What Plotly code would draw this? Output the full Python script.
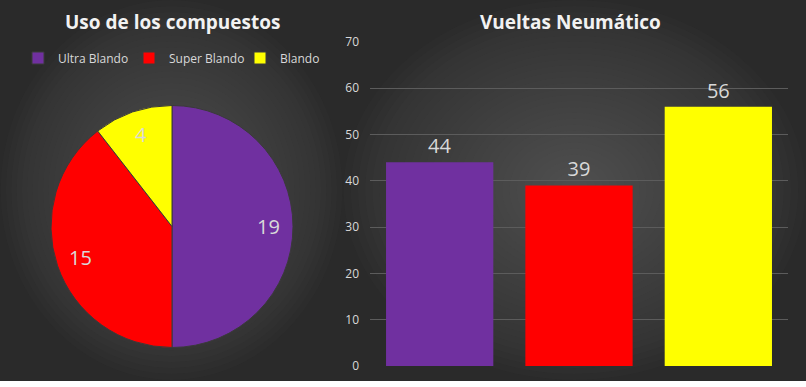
import math
import plotly.graph_objects as go

compounds = ["Ultra Blando", "Super Blando", "Blando"]
usage = [19, 15, 4]
laps = [44, 39, 56]
colors = ["#7030A0", "#FF0000", "#FFFF00"]
yticks = [0, 10, 20, 30, 40, 50, 60, 70]

W, H = 806, 387
FONT = "Open Sans, Noto Sans, sans-serif"
TXT = "#D9D9D9"

# pie geometry (pixels)
PCX, PCY, PR = 172, 226.5, 121

fig = go.Figure()

fig.add_trace(go.Pie(
    labels=compounds, values=usage, sort=False, direction="clockwise", rotation=0,
    marker=dict(colors=colors, line=dict(color="#3a3a3a", width=1)),
    textinfo="none",
    domain=dict(x=[(PCX-PR)/W, (PCX+PR)/W], y=[1-(PCY+PR)/H, 1-(PCY-PR)/H]),
    showlegend=True, hoverinfo="label+value",
))

fig.add_trace(go.Bar(
    x=compounds, y=laps, marker=dict(color=colors, line=dict(width=0)),
    text=laps, textposition="outside", cliponaxis=False,
    textfont=dict(size=20, color=TXT, family=FONT),
    showlegend=False, xaxis="x", yaxis="y",
))

# pie data labels placed at ~0.8 radius in the middle of each slice
annotations = []
total = sum(usage)
cum = 0
for v in usage:
    mid = (cum + v / 2) / total * 2 * math.pi
    cum += v
    px = PCX + 0.8 * PR * math.sin(mid)
    py = PCY - 0.8 * PR * math.cos(mid)
    annotations.append(dict(text=str(v), x=px/W, y=1-py/H, xref="paper", yref="paper",
                            showarrow=False, xanchor="center", yanchor="middle",
                            font=dict(size=20, color=TXT, family=FONT)))

annotations += [
    dict(text="<b>Uso de los compuestos</b>", x=172/W, y=1-22.5/H, xref="paper", yref="paper",
         showarrow=False, xanchor="center", yanchor="middle",
         font=dict(size=19, color="#F2F2F2", family=FONT)),
    dict(text="<b>Vueltas Neumático</b>", x=570/W, y=1-22.5/H, xref="paper", yref="paper",
         showarrow=False, xanchor="center", yanchor="middle",
         font=dict(size=19, color="#F2F2F2", family=FONT)),
]

BASE = "#2a2a2a"
shapes = [
    dict(type="rect", xref="paper", yref="paper", x0=0, x1=343/W, y0=1-381/H, y1=1,
         fillcolor=BASE, line=dict(width=0), layer="below"),
    dict(type="rect", xref="paper", yref="paper", x0=343/W, x1=1, y0=1-381/H, y1=1,
         fillcolor=BASE, line=dict(width=0), layer="below"),
]

def glow(cx, cy, rx, ry, n=32):
    out = []
    for i in range(n):
        f = 1 - i / n
        out.append(dict(type="circle", xref="paper", yref="paper",
                        x0=(cx - rx*f)/W, x1=(cx + rx*f)/W,
                        y0=1-(cy + ry*f)/H, y1=1-(cy - ry*f)/H,
                        fillcolor="rgba(128,128,128,0.021)", line=dict(width=0), layer="below"))
    return out

shapes += glow(171.5, 190, 171, 190)
shapes += glow(574.5, 190, 231, 190)

fig.update_layout(
    width=W, height=H, margin=dict(l=0, r=0, t=0, b=0, autoexpand=False),
    paper_bgcolor="white", plot_bgcolor="rgba(0,0,0,0)",
    font=dict(family=FONT, color=TXT),
    shapes=shapes, annotations=annotations,
    bargap=0.23,
    xaxis=dict(domain=[370/W, 788/W], showticklabels=False, showgrid=False,
               zeroline=False, showline=False, ticks="", automargin=False),
    yaxis=dict(domain=[1-366/H, 1-42/H], range=[0, 70], tickvals=yticks,
               gridcolor="#5c5c5c", gridwidth=1, zeroline=False, showline=False,
               tickfont=dict(size=12, color=TXT, family=FONT), ticklabelstandoff=10,
               automargin=False),
    legend=dict(orientation="h", x=18/W, xanchor="left", y=1-58/H, yanchor="middle",
                font=dict(size=12, color=TXT, family=FONT), bgcolor="rgba(0,0,0,0)",
                itemwidth=30, tracegroupgap=0, entrywidth=66, entrywidthmode="pixels"),
)

fig.write_html("out.html", config={"displayModeBar": False},
               post_script="document.body.style.margin='0';document.body.style.overflow='hidden';")
